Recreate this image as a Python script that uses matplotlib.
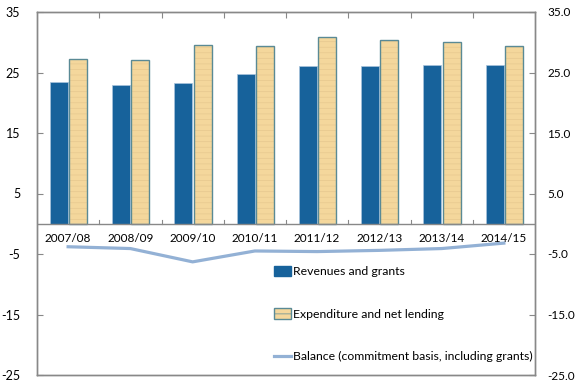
import numpy as np
import matplotlib.pyplot as plt
from matplotlib.patches import Patch
from matplotlib.lines import Line2D

years = ["2007/08", "2008/09", "2009/10", "2010/11", "2011/12", "2012/13", "2013/14", "2014/15"]
revenues = [23.5, 23.0, 23.3, 24.8, 26.1, 26.0, 26.3, 26.3]
expenditure = [27.2, 27.0, 29.6, 29.4, 30.8, 30.4, 30.1, 29.4]
balance = [-3.8, -4.1, -6.3, -4.5, -4.6, -4.4, -4.1, -3.2]

blue = "#17629b"
tan = "#f4d79c"
line_col = "#93b1d5"
grey = "#888888"

plt.rcParams["font.family"] = ["Lato", "DejaVu Sans"]
plt.rcParams["hatch.linewidth"] = 0.5

fig = plt.figure(figsize=(5.75, 3.83), dpi=100)
ax = fig.add_axes([37 / 575, 8 / 383, 498 / 575, 363 / 383])

x = np.arange(len(years))
w = 0.29
ax.bar(x - 0.15, revenues, w, color=blue, edgecolor="#a9c4dc", linewidth=0.5, zorder=2)
ax.bar(x + 0.16, expenditure, w, color=tan, edgecolor="#e6c88f", hatch="---", linewidth=0, zorder=2)
ax.bar(x + 0.16, expenditure, w, facecolor="none", edgecolor="#5a8a95", linewidth=1.0, zorder=3)
ax.plot(x, balance, color=line_col, lw=2.3, zorder=4)

ax.set_xlim(-0.5, len(years) - 0.5)
ax.set_ylim(-25, 35)
ax.axhline(0, color=grey, lw=1.0, zorder=3)

yt = np.arange(-25, 36, 10)
ax.set_yticks(yt)
ax.set_yticklabels([str(v) for v in yt], fontsize=9)
ax.tick_params(axis="y", direction="in", length=4, color=grey, pad=12)

ax.set_xticks(np.arange(len(years) - 1) + 0.5)
ax.set_xticklabels([])
ax.tick_params(axis="x", direction="in", length=4, color=grey, bottom=False, top=True)
for b in np.arange(len(years) - 1) + 0.5:
    ax.plot([b, b], [0, 0.7], color=grey, lw=0.8, zorder=3)

for i, yr in enumerate(years):
    ax.annotate(yr, (i, 0), xytext=(0, -7), textcoords="offset points",
                ha="center", va="top", fontsize=8.5, zorder=5)

ax2 = ax.twinx()
ax2.set_ylim(-25, 35)
ax2.set_yticks(yt)
ax2.set_yticklabels([f"{v:.1f}" for v in yt], fontsize=8.5)
ax2.tick_params(axis="y", direction="in", length=4, color=grey, pad=9)

for a in (ax, ax2):
    for s in a.spines.values():
        s.set_color(grey)
        s.set_linewidth(1.0)

handles = [
    Patch(facecolor=blue, edgecolor=blue),
    Patch(facecolor=tan, edgecolor="#5a8a95", hatch="---"),
    Line2D([0], [0], color=line_col, lw=2.3),
]
labels = ["Revenues and grants", "Expenditure and net lending",
          "Balance (commitment basis, including grants)"]
fig.legend(handles, labels, loc="upper left", bbox_to_anchor=(274 / 575, 1 - 266 / 383),
           frameon=False, fontsize=8.8, handlelength=1.4, handleheight=0.9,
           handletextpad=0.15, labelspacing=2.55, borderpad=0, borderaxespad=0)

fig.savefig("out.png", dpi=100)
